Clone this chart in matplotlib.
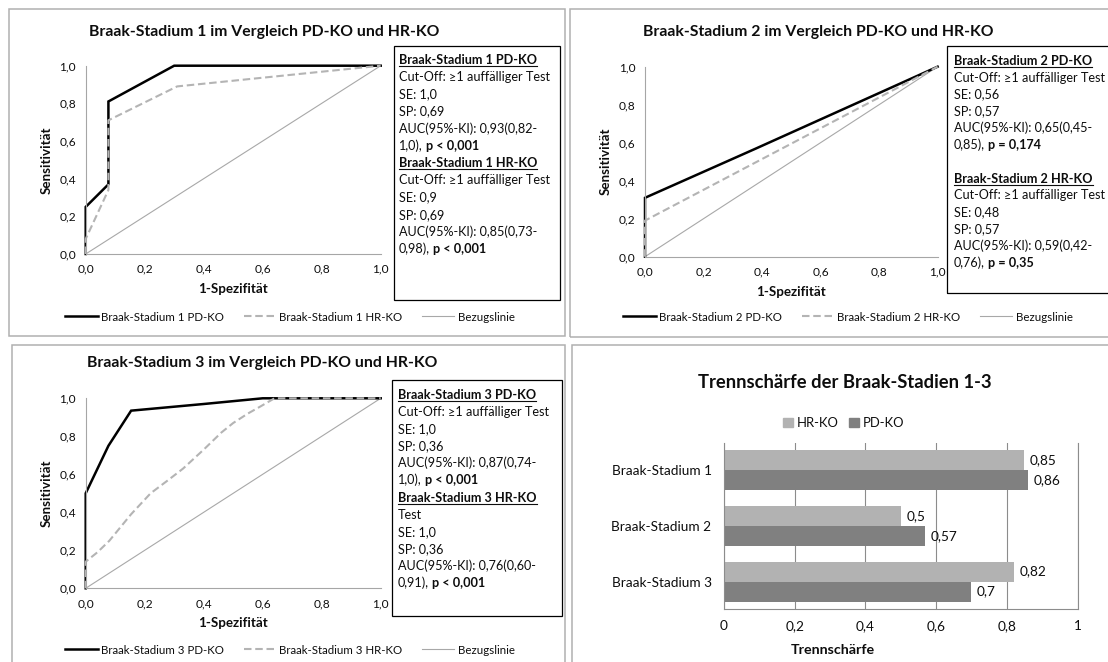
import matplotlib
matplotlib.use("Agg")
import matplotlib.pyplot as plt
from matplotlib.lines import Line2D
from matplotlib.patches import Rectangle, Patch

W, H = 1108, 662
plt.rcParams['font.family'] = ['Lato', 'DejaVu Sans']

TXT = '#0d0d0d'
GRID = '#a6a6a6'

# ROC axes
roc_ticks = [0.0, 0.2, 0.4, 0.6, 0.8, 1.0]
roc_tick_labels = ['0,0', '0,2', '0,4', '0,6', '0,8', '1,0']
ref_fpr = [0.0, 1.0]
ref_tpr = [0.0, 1.0]

# Braak-Stadium 1
pd1_fpr = [0.0, 0.0, 0.077, 0.077, 0.30, 1.0]
pd1_tpr = [0.0, 0.25, 0.37, 0.81, 1.0, 1.0]
hr1_fpr = [0.0, 0.0, 0.077, 0.077, 0.31, 1.0]
hr1_tpr = [0.0, 0.08, 0.34, 0.71, 0.89, 1.0]

# Braak-Stadium 2
pd2_fpr = [0.0, 0.0, 0.38, 1.0]
pd2_tpr = [0.0, 0.31, 0.57, 1.0]
hr2_fpr = [0.0, 0.0, 1.0]
hr2_tpr = [0.0, 0.19, 1.0]

# Braak-Stadium 3
pd3_fpr = [0.0, 0.0, 0.077, 0.154, 0.40, 0.60, 1.0]
pd3_tpr = [0.0, 0.50, 0.75, 0.935, 0.97, 1.0, 1.0]
hr3_fpr = [0.0, 0.0, 0.04, 0.08, 0.154, 0.22, 0.28, 0.33, 0.40, 0.46, 0.50, 0.55, 0.59, 0.64, 1.0]
hr3_tpr = [0.0, 0.14, 0.19, 0.25, 0.39, 0.50, 0.57, 0.63, 0.73, 0.82, 0.87, 0.92, 0.955, 1.0, 1.0]

# Trennschaerfe
stages = ['Braak-Stadium 1', 'Braak-Stadium 2', 'Braak-Stadium 3']
hr_sep = [0.85, 0.5, 0.82]
pd_sep = [0.86, 0.57, 0.7]
sep_ticks = [0.0, 0.2, 0.4, 0.6, 0.8, 1.0]
sep_tick_labels = ['0', '0,2', '0,4', '0,6', '0,8', '1']

# text boxes: 'n' normal, 'b' bold, 'u' bold + underlined
box1 = [
    [('Braak-Stadium 1 PD-KO', 'u')],
    [('Cut-Off: ≥1 auffälliger Test', 'n')],
    [('SE: 1,0', 'n')],
    [('SP: 0,69', 'n')],
    [('AUC(95%-KI): 0,93(0,82-', 'n')],
    [('1,0),', 'n'), ('p < 0,001', 'b')],
    [('Braak-Stadium 1 HR-KO', 'u')],
    [('Cut-Off: ≥1 auffälliger Test', 'n')],
    [('SE: 0,9', 'n')],
    [('SP: 0,69', 'n')],
    [('AUC(95%-KI): 0,85(0,73-', 'n')],
    [('0,98),', 'n'), ('p < 0,001', 'b')],
]
box2 = [
    [('Braak-Stadium 2 PD-KO', 'u')],
    [('Cut-Off: ≥1 auffälliger Test', 'n')],
    [('SE: 0,56', 'n')],
    [('SP: 0,57', 'n')],
    [('AUC(95%-KI): 0,65(0,45-', 'n')],
    [('0,85),', 'n'), ('p = 0,174', 'b')],
    [],
    [('Braak-Stadium 2 HR-KO', 'u')],
    [('Cut-Off: ≥1 auffälliger Test', 'n')],
    [('SE: 0,48', 'n')],
    [('SP: 0,57', 'n')],
    [('AUC(95%-KI): 0,59(0,42-', 'n')],
    [('0,76),', 'n'), ('p = 0,35', 'b')],
]
box3 = [
    [('Braak-Stadium 3 PD-KO', 'u')],
    [('Cut-Off: ≥1 auffälliger Test', 'n')],
    [('SE: 1,0', 'n')],
    [('SP: 0,36', 'n')],
    [('AUC(95%-KI): 0,87(0,74-', 'n')],
    [('1,0),', 'n'), ('p < 0,001', 'b')],
    [('Braak-Stadium 3 HR-KO', 'u')],
    [('Test', 'n')],
    [('SE: 1,0', 'n')],
    [('SP: 0,36', 'n')],
    [('AUC(95%-KI): 0,76(0,60-', 'n')],
    [('0,91),', 'n'), ('p < 0,001', 'b')],
]

fig = plt.figure(figsize=(W / 100, H / 100), dpi=100)
fig.patch.set_facecolor('white')
renderer = fig.canvas.get_renderer()


def fxy(px, py):
    return px / W, 1 - py / H


def px_axes(x0, y0, x1, y1):
    return fig.add_axes([x0 / W, 1 - y1 / H, (x1 - x0) / W, (y1 - y0) / H])


def frame(x0, y0, x1, y1, color, lw):
    fig.add_artist(Rectangle(fxy(x0, y1), (x1 - x0) / W, (y1 - y0) / H,
                             transform=fig.transFigure, fill=False,
                             edgecolor=color, linewidth=lw, clip_on=False))


def text_box(x, y0, step, lines, size=9.1):
    for i, segs in enumerate(lines):
        y = y0 + i * step + 4  # baseline
        cx = x
        for s, style in segs:
            t = fig.text(*fxy(cx, y), s, fontsize=size, color=TXT, va='baseline',
                         fontweight='normal' if style == 'n' else 'bold')
            bb = t.get_window_extent(renderer)
            if style == 'u':
                fig.add_artist(Line2D([bb.x0 / W, bb.x1 / W], [1 - (y + 2) / H] * 2,
                                      transform=fig.transFigure, color=TXT, lw=0.8))
            cx = bb.x1 + 3


def roc_panel(rect, title, title_xy, pd, hr, stage, leg_xy):
    x0, y0, x1, y1 = rect
    ax = px_axes(*rect)
    l_ref, = ax.plot(ref_fpr, ref_tpr, color='#a8a8a8', lw=0.8, clip_on=False)
    l_pd, = ax.plot(pd[0], pd[1], color='black', lw=1.8, clip_on=False,
                    solid_joinstyle='miter')
    l_hr, = ax.plot(hr[0], hr[1], color='#b4b4b4', lw=1.5, clip_on=False,
                    dashes=(3.6, 1.8))
    ax.set_xlim(0, 1)
    ax.set_ylim(0, 1)
    ax.set_xticks(roc_ticks, roc_tick_labels)
    ax.set_yticks(roc_ticks, roc_tick_labels)
    ax.tick_params(length=0, labelsize=8.6, colors=TXT, pad=7)
    for side in ('top', 'right'):
        ax.spines[side].set_visible(False)
    for side in ('left', 'bottom'):
        ax.spines[side].set_color(GRID)
        ax.spines[side].set_linewidth(0.8)
    ax.set_xlabel('1-Spezifität', fontsize=9.6, fontweight='bold', color=TXT, va='center')
    ax.xaxis.set_label_coords(0.5, -35 / (y1 - y0))
    ax.set_ylabel('Sensitivität', fontsize=9.6, fontweight='bold', color=TXT, va='center')
    ax.yaxis.set_label_coords(-39 / (x1 - x0), 0.5)
    fig.text(*fxy(*title_xy), title, fontsize=11.3, fontweight='bold', color=TXT,
             ha='center', va='center')
    ax.legend([l_pd, l_hr, l_ref],
              [f'Braak-Stadium {stage} PD-KO', f'Braak-Stadium {stage} HR-KO', 'Bezugslinie'],
              loc='center', bbox_to_anchor=fxy(*leg_xy), bbox_transform=fig.transFigure,
              ncol=3, frameon=False, fontsize=8.3, handlelength=2.8,
              handletextpad=0.3, columnspacing=1.7, labelcolor=TXT)
    return ax


# panel frames
frame(9, 9, 565, 336, '#b0b0b0', 1.1)
frame(570, 9, 1120, 337, '#b0b0b0', 1.1)
frame(12, 345, 565, 680, '#b0b0b0', 1.1)
frame(572, 345, 1120, 680, '#b0b0b0', 1.1)

roc_panel((85.7, 65.7, 380.7, 254), 'Braak-Stadium 1 im Vergleich PD-KO und HR-KO',
          (264, 32), (pd1_fpr, pd1_tpr), (hr1_fpr, hr1_tpr), 1, (290, 317))
roc_panel((645, 66.7, 937.6, 256.7), 'Braak-Stadium 2 im Vergleich PD-KO und HR-KO',
          (818, 32), (pd2_fpr, pd2_tpr), (hr2_fpr, hr2_tpr), 2, (848, 317))
roc_panel((85.7, 398.3, 380.7, 588.3), 'Braak-Stadium 3 im Vergleich PD-KO und HR-KO',
          (262, 363), (pd3_fpr, pd3_tpr), (hr3_fpr, hr3_tpr), 3, (290, 650))

# statistics boxes
frame(394, 45.7, 560, 300, 'black', 0.9)
frame(946.7, 45.7, 1120, 293, 'black', 0.9)
frame(391.7, 380, 561.7, 616, 'black', 0.9)
text_box(399, 60, 17.2, box1)
text_box(954, 61, 16.8, box2)
text_box(398, 395, 17.1, box3)

# horizontal bar chart
axb = px_axes(724, 442.7, 1077.5, 609.3)
ypos = list(range(len(stages)))
h = 0.36
b_hr = axb.barh([y - h / 2 for y in ypos], hr_sep, height=h, color='#b2b2b2', label='HR-KO')
b_pd = axb.barh([y + h / 2 for y in ypos], pd_sep, height=h, color='#808080', label='PD-KO')
axb.bar_label(b_hr, labels=[f'{v:g}'.replace('.', ',') for v in hr_sep], padding=4,
              fontsize=9.8, color=TXT)
axb.bar_label(b_pd, labels=[f'{v:g}'.replace('.', ',') for v in pd_sep], padding=4,
              fontsize=9.8, color=TXT)
axb.set_xlim(0, 1)
axb.set_ylim(2.5, -0.5)
axb.set_yticks(ypos, stages)
axb.set_xticks(sep_ticks, sep_tick_labels)
axb.tick_params(length=0, labelsize=9.8, colors=TXT)
axb.tick_params(axis='x', pad=8)
axb.tick_params(axis='y', pad=9)
axb.grid(axis='x', color='#8c8c8c', lw=0.8)
axb.set_axisbelow(True)
axb.spines['top'].set_visible(False)
for side in ('left', 'bottom', 'right'):
    axb.spines[side].set_color('#8c8c8c')
    axb.spines[side].set_linewidth(0.8)
axb.set_xlabel('Trennschärfe', fontsize=10.3, fontweight='bold', color=TXT, va='center')
axb.xaxis.set_label_coords((833 - 724) / 353.5, -(650 - 609.3) / 166.6)
fig.text(*fxy(845, 383), 'Trennschärfe der Braak-Stadien 1-3', fontsize=13.2,
         fontweight='bold', color=TXT, ha='center', va='center')
axb.legend(handles=[Patch(color='#b2b2b2'), Patch(color='#808080')], labels=['HR-KO', 'PD-KO'],
           loc='center', bbox_to_anchor=fxy(844, 423), bbox_transform=fig.transFigure,
           ncol=2, frameon=False, fontsize=9.4, handlelength=0.75, handleheight=0.75,
           handletextpad=0.3, columnspacing=0.8, labelcolor=TXT)

fig.savefig('out.png', dpi=100)
